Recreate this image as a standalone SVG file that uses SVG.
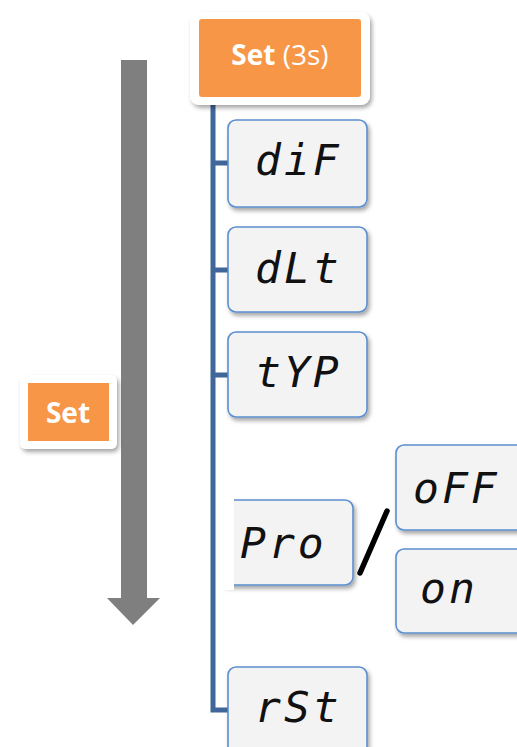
<svg xmlns="http://www.w3.org/2000/svg" width="517" height="747" viewBox="0 0 517 747">
<defs>
<filter id="sh" x="-20%" y="-20%" width="140%" height="150%">
<feDropShadow dx="2" dy="3" stdDeviation="2" flood-color="#000" flood-opacity="0.35"/>
</filter>
</defs>
<style>
.disp{fill:#f3f3f3;stroke:#5b8fd0;stroke-width:1.6;filter:url(#sh)}
.seg{font-family:"DejaVu Sans Mono",monospace;font-style:oblique;font-size:43px;fill:#111;letter-spacing:3px}
.outer{fill:#fff;filter:url(#sh)}
.orange{fill:#f79646}
.lbl{font-family:"Open Sans","Liberation Sans",sans-serif;font-size:28px;fill:#fff;text-anchor:middle}
.conn{fill:none;stroke:#3f679a;stroke-width:5}
</style>
<g id="arrow">
<polygon points="121,60 147,60 147,598 160,598 133,625 107,598 121,598" fill="#7f7f7f"/>
</g>
<g id="connectors">
<path class="conn" d="M213,100 V710 H229"/>
<path class="conn" d="M213,163 H229 M213,270 H229 M213,375 H229"/>
<line x1="360" y1="573" x2="387" y2="511" stroke="#000" stroke-width="5.5" stroke-linecap="round"/>
</g>
<g id="set3s">
<rect class="outer" x="190" y="12" width="180" height="93" rx="9"/>
<rect class="orange" x="199" y="19" width="162" height="78" rx="3"/>
<text class="lbl" x="280" y="65"><tspan font-weight="700">Set</tspan> (3s)</text>
</g>
<g id="set">
<rect class="outer" x="20" y="375" width="97" height="74" rx="6"/>
<rect class="orange" x="28" y="383" width="81" height="58"/>
<text class="lbl" x="68" y="423" font-weight="700">Set</text>
</g>
<g id="dif">
<rect class="disp" x="228" y="120" width="139" height="87" rx="8"/>
<text class="seg" x="255" y="175">diF</text>
</g>
<g id="dlt">
<rect class="disp" x="228" y="227" width="139" height="85" rx="8"/>
<text class="seg" x="255" y="283">dLt</text>
</g>
<g id="typ">
<rect class="disp" x="228" y="332" width="139" height="85" rx="8"/>
<text class="seg" x="255" y="387">tYP</text>
</g>
<g id="pro">
<rect class="disp" x="220" y="500" width="133" height="85" rx="8"/>
<rect x="218" y="496" width="16" height="94" fill="#fff"/>
<text class="seg" x="240" y="558" letter-spacing="8">Pro</text>
</g>
<g id="off">
<rect class="disp" x="396" y="445" width="140" height="85" rx="8"/>
<text class="seg" x="413" y="503" letter-spacing="6">oFF</text>
</g>
<g id="on">
<rect class="disp" x="396" y="549" width="140" height="84" rx="8"/>
<text class="seg" x="420" y="603" letter-spacing="6">on</text>
</g>
<g id="rst">
<rect class="disp" x="228" y="667" width="139" height="95" rx="8"/>
<text class="seg" x="255" y="722">rSt</text>
</g>
</svg>
